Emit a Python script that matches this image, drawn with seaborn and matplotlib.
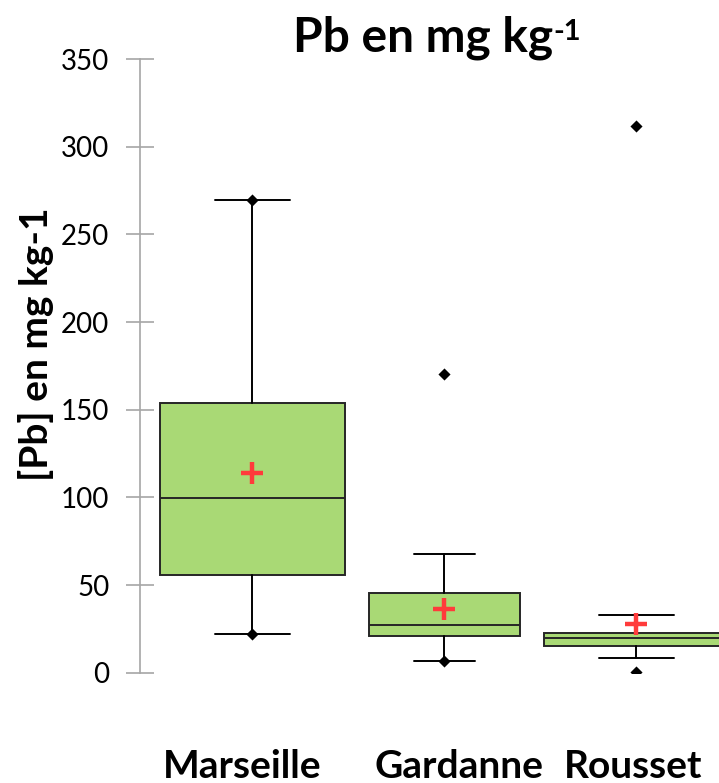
import matplotlib
matplotlib.use('Agg')
import matplotlib.pyplot as plt
import matplotlib.transforms as mtransforms
import seaborn as sns
import numpy as np
import pandas as pd

# Values (mg/kg)
sites = ['Marseille', 'Gardanne', 'Rousset']
q1 = [55.7, 20.9, 15.4]
medians = [99.8, 27.2, 20.0]
q3 = [153.8, 45.6, 22.8]
whisker_low = [22.1, 6.8, 8.4]
whisker_high = [269.6, 67.9, 32.9]
means = [113.7, 36.2, 27.6]
minima = [22.1, 6.8, 0.6]
maxima = [269.6, 170.2, 311.8]
y_ticks = [0, 50, 100, 150, 200, 250, 300, 350]

BOX_COLOR = '#a9d975'
EDGE = '#262626'
AXIS_GREY = '#a6a6a6'

sns.set_theme(style='white')
plt.rcParams['font.family'] = ['Lato', 'DejaVu Sans']
plt.rcParams['text.color'] = 'black'
plt.rcParams['axes.labelcolor'] = 'black'
plt.rcParams['xtick.labelcolor'] = 'black'
plt.rcParams['ytick.labelcolor'] = 'black'

fig = plt.figure(figsize=(7.19, 7.83), dpi=100)
ax = fig.add_axes([140 / 719, 1 - 672.7 / 783, 1 - 140 / 719, (672.7 - 59) / 783])

pos = np.arange(len(sites))
stats = []
for i, name in enumerate(sites):
    stats.append({
        'label': name, 'q1': q1[i], 'med': medians[i], 'q3': q3[i],
        'whislo': whisker_low[i], 'whishi': whisker_high[i], 'fliers': [],
    })

ax.bxp(stats, positions=pos, widths=[0.96, 0.79, 0.96],
       capwidths=[0.39, 0.32, 0.39], patch_artist=True, showfliers=False,
       boxprops=dict(facecolor=BOX_COLOR, edgecolor=EDGE, linewidth=1.4),
       medianprops=dict(color=EDGE, linewidth=1.4),
       whiskerprops=dict(color='black', linewidth=1.4),
       capprops=dict(color='black', linewidth=1.4))

extremes = pd.DataFrame({'x': np.concatenate([pos, pos]),
                         'y': minima + maxima})
sns.scatterplot(data=extremes, x='x', y='y', marker='D', s=38,
                color='black', edgecolor='black', linewidth=0, ax=ax, zorder=4)

mean_df = pd.DataFrame({'x': pos, 'y': means})
sns.scatterplot(data=mean_df, x='x', y='y', marker='+', s=250,
                color='#ff3b3b', linewidth=3.2, ax=ax, zorder=5)

ax.set_xlim(-0.586, 2.43)
ax.set_ylim(0, 350)
ax.set_yticks(y_ticks)
ax.set_xticks(pos)
ax.set_xticklabels(sites, fontsize=28, fontweight='bold')
ax.tick_params(axis='x', length=0, pad=55, labelcolor='black')
ax.tick_params(axis='y', direction='inout', length=20, width=1.2,
               color=AXIS_GREY, labelcolor='black', labelsize=20, pad=12,
               left=True)

# category labels sit slightly off the box centres in the original
shifts_px = [-10, 15, -3]
for lab, dx in zip(ax.get_xticklabels(), shifts_px):
    lab.set_transform(lab.get_transform() +
                      mtransforms.ScaledTranslation(dx / 100, 0, fig.dpi_scale_trans))

ax.set_xlabel('')
ax.set_ylabel('[Pb] en mg kg-1', fontsize=28, fontweight='bold', color='black')
ax.yaxis.set_label_coords(-0.148, 0.536)

for side in ['top', 'right', 'bottom']:
    ax.spines[side].set_visible(False)
ax.spines['left'].set_color(AXIS_GREY)
ax.spines['left'].set_linewidth(1.2)
ax.grid(False)

title = fig.text(293 / 719, 1 - 51 / 783, 'Pb en mg kg', fontsize=34.5,
                 fontweight='bold', ha='left', va='baseline', color='black')
fig.canvas.draw()
ax.annotate('-1', xy=(1, 1), xycoords=title, xytext=(0, -3),
            textcoords='offset points', ha='left', va='top',
            fontsize=21, fontweight='bold', color='black')

fig.savefig('out.png', dpi=100)
plt.close(fig)
